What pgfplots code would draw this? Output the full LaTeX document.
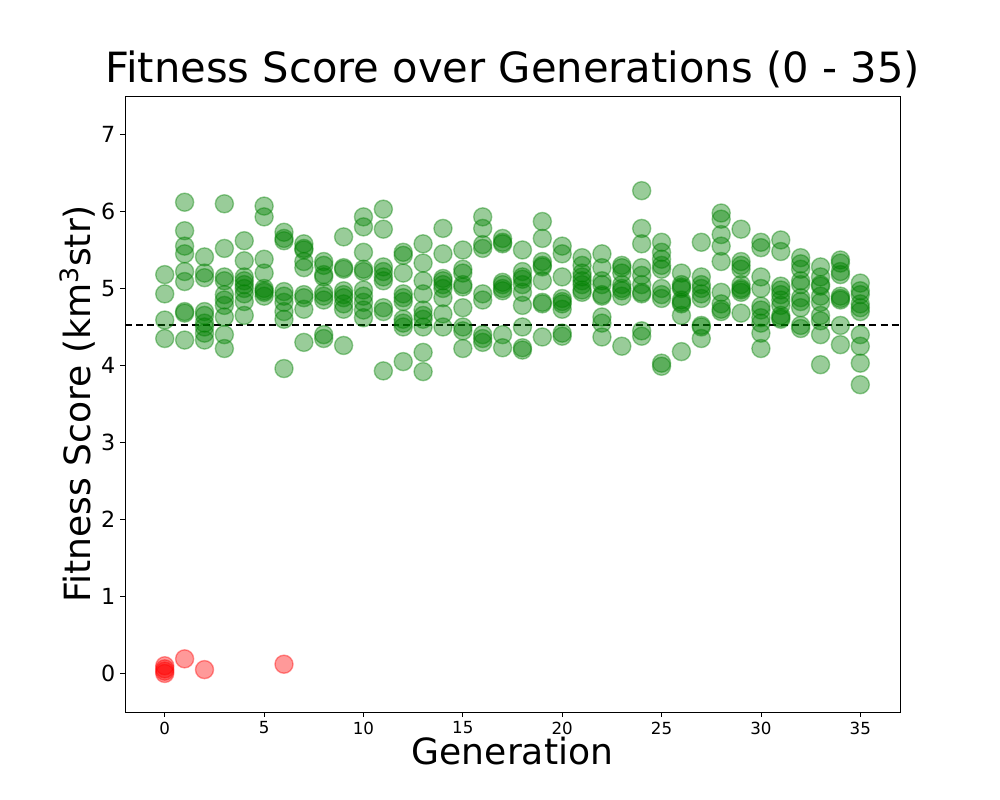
\documentclass[border=0pt]{standalone}
\usepackage{pgfplots}
\pgfplotsset{compat=1.18}
\usepackage{fontspec}
\setmainfont{DejaVu Sans}
\definecolor{mplgreen}{RGB}{0,128,0}
\definecolor{mplred}{RGB}{255,0,0}
\begin{document}
\begin{tikzpicture}
\begin{axis}[
  scale only axis,
  width=558pt, height=443.5pt,
  xmin=-2, xmax=37, ymin=-0.5, ymax=7.5,
  xtick={0,5,...,35}, ytick={0,1,...,7},
  tick align=outside, xtick pos=bottom, ytick pos=left,
  major tick length=3.5pt,
  tick style={black, line width=0.6pt},
  axis line style={line width=0.6pt},
  /pgf/number format/assume math mode=true,
  xticklabel style={font=\fontsize{12}{14}\selectfont},
  yticklabel style={font=\fontsize{16}{19}\selectfont},
  title={Fitness Score over Generations (0 - 35)},
  title style={font=\fontsize{30}{36}\selectfont, yshift=-4pt},
  xlabel={Generation},
  ylabel={Fitness Score (km\textsuperscript{3}str)},
  label style={font=\fontsize{26}{31}\selectfont},
  xlabel style={yshift=5pt},
  ylabel style={yshift=-3pt},
]
\coordinate (bl) at (rel axis cs:-0.1613,-0.1429);
\coordinate (tr) at (rel axis cs:1.129,1.1558);
\addplot[only marks, mark=*, mark size=6.5pt, mark options={fill=mplgreen, draw=mplgreen, fill opacity=0.4, draw opacity=0.4, line width=1pt}] coordinates {
(0,5.18)(0,4.93)(0,4.59)(0,4.35)
(1,6.12)(1,5.75)(1,5.55)(1,5.45)(1,5.22)(1,5.09)(1,4.70)(1,4.68)(1,4.33)
(2,5.41)(2,5.20)(2,5.14)(2,4.70)(2,4.65)(2,4.55)(2,4.50)(2,4.42)(2,4.33)
(3,6.10)(3,5.52)(3,5.15)(3,5.10)(3,4.92)(3,4.85)(3,4.78)(3,4.63)(3,4.40)(3,4.22)
(4,5.62)(4,5.36)(4,5.15)(4,5.10)(4,5.05)(4,5.00)(4,4.93)(4,4.83)(4,4.65)
(5,6.07)(5,5.93)(5,5.38)(5,5.20)(5,5.00)(5,4.97)(5,4.95)(5,4.90)
(6,5.73)(6,5.65)(6,5.62)(6,4.96)(6,4.90)(6,4.82)(6,4.70)(6,4.60)(6,3.96)
(7,5.58)(7,5.52)(7,5.50)(7,5.35)(7,5.27)(7,4.92)(7,4.88)(7,4.73)(7,4.30)
(8,5.35)(8,5.30)(8,5.18)(8,5.15)(8,4.95)(8,4.90)(8,4.85)(8,4.40)(8,4.35)
(9,5.67)(9,5.27)(9,5.25)(9,4.97)(9,4.92)(9,4.88)(9,4.80)(9,4.73)(9,4.26)
(10,5.93)(10,5.80)(10,5.47)(10,5.25)(10,5.22)(10,4.98)(10,4.90)(10,4.82)(10,4.72)(10,4.62)
(11,6.03)(11,5.77)(11,5.28)(11,5.22)(11,5.15)(11,5.10)(11,4.75)(11,4.70)(11,3.93)
(12,5.47)(12,5.43)(12,5.20)(12,4.93)(12,4.88)(12,4.83)(12,4.60)(12,4.55)(12,4.50)(12,4.05)
(13,5.58)(13,5.33)(13,5.10)(13,4.93)(13,4.72)(13,4.65)(13,4.60)(13,4.50)(13,4.17)(13,3.92)
(14,5.78)(14,5.45)(14,5.13)(14,5.10)(14,5.05)(14,5.00)(14,4.88)(14,4.67)(14,4.50)
(15,5.50)(15,5.25)(15,5.20)(15,5.05)(15,5.02)(15,4.75)(15,4.50)(15,4.45)(15,4.22)
(16,5.93)(16,5.78)(16,5.57)(16,5.52)(16,4.93)(16,4.85)(16,4.40)(16,4.35)(16,4.30)
(17,5.65)(17,5.60)(17,5.58)(17,5.08)(17,5.05)(17,5.00)(17,4.97)(17,4.40)(17,4.23)
(18,5.50)(18,5.22)(18,5.15)(18,5.12)(18,5.05)(18,4.95)(18,4.78)(18,4.50)(18,4.23)(18,4.20)
(19,5.87)(19,5.65)(19,5.35)(19,5.30)(19,5.28)(19,5.10)(19,4.82)(19,4.80)(19,4.37)
(20,5.55)(20,5.45)(20,5.15)(20,4.87)(20,4.83)(20,4.80)(20,4.73)(20,4.42)(20,4.38)
(21,5.40)(21,5.30)(21,5.20)(21,5.15)(21,5.10)(21,5.05)(21,4.98)(21,4.95)
(22,5.45)(22,5.27)(22,5.10)(22,5.05)(22,4.92)(22,4.90)(22,4.63)(22,4.55)(22,4.37)
(23,5.30)(23,5.27)(23,5.20)(23,5.05)(23,5.00)(23,4.97)(23,4.90)(23,4.25)
(24,6.27)(24,5.78)(24,5.58)(24,5.27)(24,5.17)(24,5.05)(24,4.95)(24,4.93)(24,4.45)(24,4.38)
(25,5.60)(25,5.47)(25,5.38)(25,5.30)(25,5.25)(25,5.00)(25,4.92)(25,4.87)(25,4.03)(25,3.99)
(26,5.20)(26,5.05)(26,5.02)(26,5.00)(26,4.85)(26,4.82)(26,4.80)(26,4.65)(26,4.18)
(27,5.60)(27,5.15)(27,5.05)(27,5.00)(27,4.93)(27,4.87)(27,4.52)(27,4.50)(27,4.35)
(28,5.98)(28,5.90)(28,5.70)(28,5.55)(28,5.35)(28,4.95)(28,4.80)(28,4.73)(28,4.70)
(29,5.77)(29,5.35)(29,5.30)(29,5.25)(29,5.05)(29,5.00)(29,4.98)(29,4.95)(29,4.68)
(30,5.60)(30,5.53)(30,5.15)(30,5.00)(30,4.77)(30,4.72)(30,4.62)(30,4.55)(30,4.42)(30,4.22)
(31,5.63)(31,5.48)(31,5.03)(31,4.98)(31,4.92)(31,4.85)(31,4.78)(31,4.65)(31,4.60)(31,4.62)
(32,5.40)(32,5.32)(32,5.25)(32,5.10)(32,5.05)(32,4.88)(32,4.83)(32,4.75)(32,4.52)(32,4.48)
(33,5.28)(33,5.15)(33,5.05)(33,5.03)(33,4.90)(33,4.82)(33,4.65)(33,4.58)(33,4.40)(33,4.01)
(34,5.37)(34,5.33)(34,5.22)(34,5.18)(34,4.90)(34,4.87)(34,4.85)(34,4.52)(34,4.27)
(35,5.07)(35,4.97)(35,4.92)(35,4.80)(35,4.75)(35,4.70)(35,4.40)(35,4.25)(35,4.03)(35,3.75)
};
\addplot[only marks, mark=*, mark size=6.5pt, mark options={fill=mplred, draw=mplred, fill opacity=0.4, draw opacity=0.4, line width=1pt}] coordinates {
(0,0.00)(0,0.03)(0,0.06)(0,0.10)(1,0.19)(2,0.05)(6,0.12)
};
\addplot[black, line width=1.5pt, dash pattern=on 5pt off 3pt] coordinates {(-2,4.53)(37,4.53)};
\end{axis}
\pgfresetboundingbox
\path[use as bounding box] (bl) rectangle (tr);
\end{tikzpicture}
\end{document}
